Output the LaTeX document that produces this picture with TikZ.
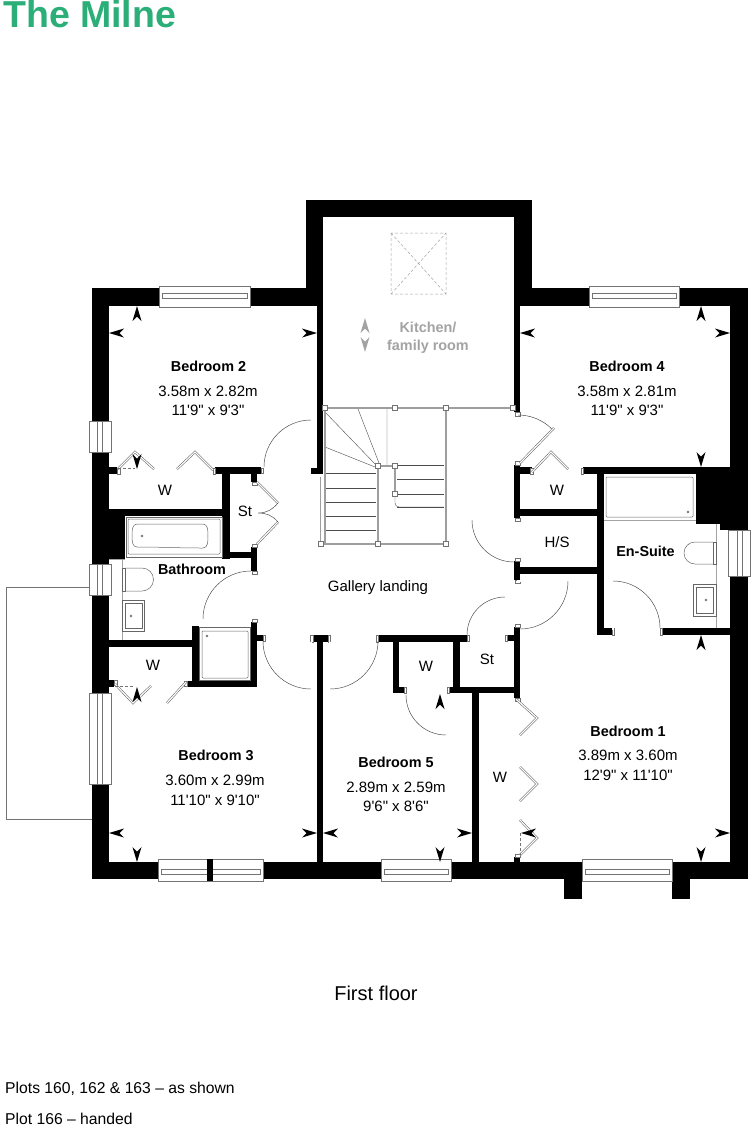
\documentclass[tikz,border=0pt]{standalone}
\usepackage{fontspec}
\newfontfamily\milne{Liberation Sans}
\definecolor{milnegreen}{HTML}{2BAE78}
\definecolor{kitchengrey}{HTML}{A3A3A3}
\begin{document}
\begin{tikzpicture}[x=1pt,y=-1pt,
 roomname/.style={font=\milne\fontsize{14.4}{16}\selectfont\bfseries,inner sep=0pt},
 dims/.style={font=\milne\fontsize{15}{16}\selectfont,inner sep=0pt},
 wall/.style={fill=black},
 frame/.style={draw=black!55,fill=white,line width=.5pt},
 leaf/.style={draw=black!65,double=white,line width=.5pt,double distance=1.2pt},
 swing/.style={draw=black!75,line width=.45pt},
 fixture/.style={draw=black!60,line width=.5pt},
 stair/.style={draw=black!38,line width=1.6pt},
 tread/.style={draw=black!70,line width=.4pt},
 pics/tick/.style={code={\fill[#1] (0,0) -- (4.5,15) -- (0,10.5) -- (-4.5,15) -- cycle;}},
 pics/tick/.default=black]
\useasboundingbox (0,0) rectangle (752,1128);
%balcony
\draw[black!55,line width=.5pt] (92,587) -- (6.5,587) -- (6.5,819.5) -- (92,819.5);
%walls
\foreach \X/\Y/\U/\V in {91.5/288/109/879,91.5/288/306/306,306/200/323/306,306/200/532/217,
 514/200/532/306,514/288/748/306,730/288/748/879,91.5/862/748/879,564/862/582/899,672/862/690/899,
 317/288/323/474,311/468/323/474,514/288/520/412,514/465/520/518,520/467/532/474,583/467/730/474,
 696/467/730/524,720/467/748/530,597/467/604/635,520/509/597/516,514/561/520/580,514/567/597/574,
 597/628/612/635,662/628/730/635,109/509/125/559,109/467/117/474,215/467/261/474,222/467/230/559,
 109/509/222/516,222/552/257/558,251/467/257/482,251/547/257/571,109/640/192/647,192/626/199/687,
 187/681/257/687,251/622/257/687,251/635/263/641,109/680/114/687,317/635/323/862,313/635/328/642,
 378/635/467/642,393/635/399/693,393/687/404/693,453/635/460/693,449/687/520/693,514/627/520/698,
 507/635/514/641,472/687/479/862,514/857/520/862}
 \fill[wall] (\X,\Y) rectangle (\U,\V);
%door jambs
\foreach \X/\Y/\U/\V in {515/412/520/416,515/461/520/465,515/518/520/521,515/558/520/561,515/580/520/583,
 515/624/520/627,117/468/120/474,213/468/215/474,261/468/263/473,252/482/257/485,252/544/257/547,
 252/571/257/574,252/619/257/622,263/635/265/641,114/680/117/685,184/681/187/686,310/635/313/642,
 328/635/330/642,376/635/378/642,467/635/469/641,505/635/507/641,404/687/406/693,447/687/449/693,
 515/698/520/701,515/854/520/857,612/628/614/635,660/628/662/635,530/468/533/474,581/468/583/474}
 \draw[frame,line width=.35pt] (\X,\Y) rectangle (\U,\V);
%windows along the top and bottom walls
\foreach \X/\U/\Y/\V/\Q in {159/250/286/307/293,589/679/286/307/293,158.5/263/859/881/869,381/451/859/881/869,582/672/859/881/869}
 {\draw[frame] (\X,\Y) rectangle (\U,\V);
  \draw[frame] (\X+3,\Q) rectangle (\U-3,\Q+5);}
\fill[wall] (207,859) rectangle (213,881);
%windows along the side walls
\foreach \Y/\V/\X/\U/\Q in {421/452/89.5/111/97,564/595/89.5/111/97,693/784/89.5/111/97,530/576/728/750/737}
 {\draw[frame] (\X,\Y) rectangle (\U,\V);
  \draw[frame] (\Q,\Y) rectangle (\Q+5,\V);}
%roof window
\draw[kitchengrey,densely dashed,line width=.5pt] (391,233) rectangle (446,294) (391,233) -- (446,294) (391,294) -- (446,233);
%stairs
\foreach \Y in {473,488,502,516,530} \draw[tread] (325,\Y) -- (376,\Y);
\foreach \Y in {465,479,494,507} \draw[tread] (397,\Y) -- (444,\Y);
\draw[tread] (325,412) -- (376,465) (358,409) -- (379,463) (387,409) -- (387,465) (325,447) -- (375,467);
\draw[stair] (323,408) -- (513,408) (446,408) -- (446,544) (321,544) -- (446,544) (378,466) -- (378,544)
 (378,466) -- (395,466) -- (395,494) (325,408) -- (325,544) (320.5,477) -- (320.5,544);
\draw[tread] (395,496) -- (395,503) arc[start angle=180,end angle=90,radius=4] -- (444,507);
\foreach \X/\Y in {325/408,395/408,446/408,513/408,378/466,395/466,395/494,321/544,378/544,446/544}
 \draw[frame] (\X-2.5,\Y-2.5) rectangle (\X+2.5,\Y+2.5);
%door leaves
\draw[leaf] (311,420) -- (311,468);
\draw[leaf] (203,619) -- (251,619);
\draw[leaf] (311,642) -- (311,689);
\draw[leaf] (330,642) -- (330,689);
\draw[leaf] (446,693) -- (446,735);
\draw[leaf] (505,597) -- (505,635);
\draw[leaf] (520,463) -- (554,428);
\draw[leaf] (472,520) -- (514,520);
\draw[leaf] (517,581) -- (568,581);
\draw[leaf] (613,581) -- (613,630);
\draw[leaf] (257,482) -- (278,503);
\draw[leaf] (257,544) -- (278,522);
\draw[swing] (311,420) arc[start angle=-90,end angle=-180,radius=47];
\draw[swing] (203,619) arc[start angle=180,end angle=270,radius=48];
\draw[swing] (263,641) arc[start angle=180,end angle=90,radius=48];
\draw[swing] (330,689) arc[start angle=90,end angle=0,radius=48];
\draw[swing] (406,695) arc[start angle=180,end angle=90,radius=40];
\draw[swing] (505,597) arc[start angle=-90,end angle=-180,radius=38];
\draw[swing] (518,415) arc[start angle=-90,end angle=-45,radius=48];
\draw[swing] (472,520) arc[start angle=180,end angle=90,radius=42];
\draw[swing] (568,581) arc[start angle=0,end angle=90,radius=48];
\draw[swing] (613,581) arc[start angle=-90,end angle=0,radius=47];
\draw[swing] (278,503) to[out=-130,in=0] (258,513) to[out=0,in=130] (278,522);
%folding wardrobe doors
\foreach \X/\Y/\U/\V/\P/\Q in {118/469/135/452/154/469,177/469/195/452/213/470,532/472/551/452/568/469,
 115/684/133/703/151/686,186/682/167/703/167/703,517/700/537/718/520/735,520/767/537/784/520/801,520/820/537/838/520/855}
 \draw[leaf] (\X,\Y) -- (\U,\V) -- (\P,\Q);
\draw[black!55,densely dashed,line width=.4pt] (118,468) -- (135,468) (115,686) -- (133,686) (520,833) -- (520,855);
%bathroom
\draw[kitchengrey,line width=.5pt] (122,559) -- (122,640) (109,559) -- (125,559);
\draw[fixture] (126,517) rectangle (222,557);
\draw[fixture,rounded corners=1pt] (128,519) rectangle (220,554);
\draw[fixture] (137,524) to[out=0,in=180] (203,524) to[out=0,in=90] (208,536) to[out=-90,in=0] (203,548) to[out=180,in=0] (137,547) to[out=180,in=-90] (132,536) to[out=90,in=180] (137,524);
\draw[fixture] (142,536) circle (1);
\draw[fixture] (122,568) rectangle (125,591);
\draw[fixture] (125,568) -- (142,568) arc[start angle=-90,end angle=90,radius=11.5] -- (125,591);
\draw[fixture] (122,600) rectangle (144,631);
\draw[fixture] (125,603) rectangle (142,628);
\draw[fixture] (131,616) circle (1);
\draw[fixture] (199,627) rectangle (250,680);
\draw[fixture,rounded corners=1pt] (202,631) rectangle (248,678);
\draw[fixture] (207,636) circle (1);
%en-suite
\draw[kitchengrey,line width=.5pt] (716,524) -- (716,628) (604,520) -- (696,520);
\draw[fixture,rounded corners=1pt] (606,477) rectangle (693,517);
\draw[fixture] (688,512) circle (1);
\draw[fixture] (713,542) rectangle (716,564);
\draw[fixture] (713,542) -- (695,542) arc[start angle=-90,end angle=-270,radius=11] -- (713,564);
\draw[fixture] (693,584) rectangle (716,616);
\draw[fixture] (696,587) rectangle (713,613);
\draw[fixture] (706,600) circle (1);
%room markers
\foreach \X/\Y/\R in {137/306/0,109/333/90,317/333/-90,137/469/180,137/687/0,109/833/90,317/833/-90,137/862/180,
 323/833/90,472/833/-90,440/862/180,440/694/0,521/833/90,730/833/-90,701/862/180,701/635/0,
 701/306/0,520/333/90,730/333/-90,701/467/180}
 \pic[rotate=\R] at (\X,\Y) {tick};
\pic at (365,318) {tick=kitchengrey};
\pic[rotate=180] at (365,352) {tick=kitchengrey};
%labels
\node[anchor=base west,inner sep=0pt,text=milnegreen,font=\milne\fontsize{37.5}{40}\selectfont\bfseries] (title) at (3,27.5) {The Milne};
\node[roomname,text=kitchengrey,align=center] (kitchen) at (428,338) {Kitchen/\\[2pt]family room};
\node[roomname] (bed2) at (208.5,366.5) {Bedroom 2};
\node[dims] (bed2m) at (208,391.5) {3.58m x 2.82m};
\node[dims] (bed2ft) at (208,410.5) {11'9" x 9'3"};
\node[roomname] (bed4) at (627,366.5) {Bedroom 4};
\node[dims] (bed4m) at (627,391.5) {3.58m x 2.81m};
\node[dims] (bed4ft) at (627,410.5) {11'9" x 9'3"};
\node[roomname] (bed3) at (216,755) {Bedroom 3};
\node[dims] (bed3m) at (215,780.5) {3.60m x 2.99m};
\node[dims] (bed3ft) at (215,800.5) {11'10" x 9'10"};
\node[roomname] (bed5) at (396,762) {Bedroom 5};
\node[dims] (bed5m) at (396,787.5) {2.89m x 2.59m};
\node[dims] (bed5ft) at (396,806.5) {9'6" x 8'6"};
\node[roomname] (bed1) at (628,731) {Bedroom 1};
\node[dims] (bed1m) at (628,755.5) {3.89m x 3.60m};
\node[dims] (bed1ft) at (628,775.5) {12'9" x 11'10"};
\node[roomname] (ensuite) at (645.5,551.5) {En-Suite};
\node[roomname] (bath) at (192,569) {Bathroom};
\node[dims] (landing) at (378,587.5) {Gallery landing};
\node[dims] (hs) at (557,542) {H/S};
\node[dims] (st1) at (245,511) {St};
\node[dims] (st2) at (487,659) {St};
\node[dims] (w2) at (165,490) {W};
\node[dims] (w4) at (557,490) {W};
\node[dims] (w3) at (153,665) {W};
\node[dims] (w5) at (426,666) {W};
\node[dims] (w1) at (500,777) {W};
\node[inner sep=0pt,font=\milne\fontsize{20}{22}\selectfont] (floor) at (376,993) {First floor};
\node[anchor=base west,inner sep=0pt,font=\milne\fontsize{15.7}{18}\selectfont] (plots) at (5,1093) {Plots 160, 162 \& 163 – as shown};
\node[anchor=base west,inner sep=0pt,font=\milne\fontsize{15.7}{18}\selectfont] (handed) at (5,1124) {Plot 166 – handed};
\end{tikzpicture}
\end{document}
